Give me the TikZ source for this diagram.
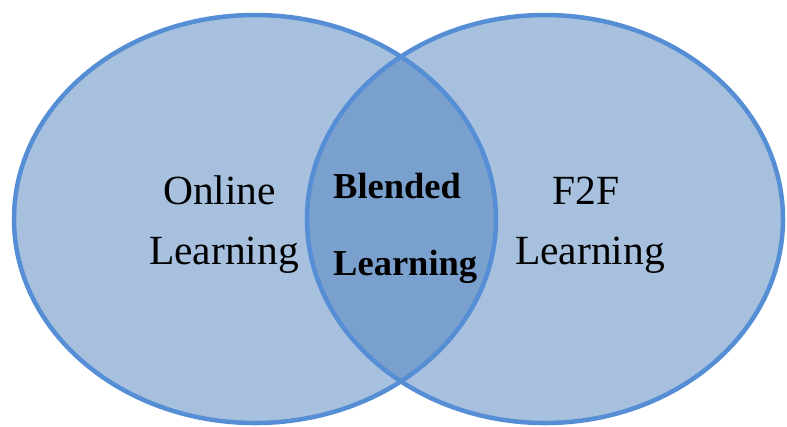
\documentclass[tikz,border=0pt]{standalone}
\usepackage{fontspec}
\setmainfont{Liberation Serif}
\usetikzlibrary{shapes.geometric}
\definecolor{vennbase}{HTML}{4F81BD}
\definecolor{vennline}{HTML}{558ED5}
\begin{document}
\begin{tikzpicture}[x=1bp,y=-1bp,
  vennfill/.style={ellipse,inner sep=0pt,outer sep=0pt,fill=vennbase,fill opacity=0.5},
  vennedge/.style={ellipse,inner sep=0pt,outer sep=0pt,draw=vennline,line width=4.5bp},
  lbl/.style={anchor=base west,inner sep=0pt,font=\fontsize{41.5bp}{48bp}\selectfont},
  blbl/.style={anchor=base west,inner sep=0pt,font=\fontsize{36.5bp}{42bp}\selectfont\bfseries}]
\useasboundingbox (0,0) rectangle (787,426);
\node[vennfill,minimum width=482bp,minimum height=408bp] (L) at (255,219) {};
\node[vennfill,minimum width=476bp,minimum height=408bp] (R) at (545,219) {};
\node[vennedge,minimum width=482bp,minimum height=408bp] (Le) at (L) {};
\node[vennedge,minimum width=476bp,minimum height=408bp] (Re) at (R) {};
\node[lbl] (on) at (163,204) {Online};
\node[lbl] (onl) at (149,264) {Learning};
\node[lbl] (f2f) at (552,204) {F2F};
\node[lbl] (f2fl) at (515,264) {Learning};
\node[blbl] (bl) at (333,198) {Blended};
\node[blbl] (bll) at (333,275) {Learning};
\end{tikzpicture}
\end{document}
